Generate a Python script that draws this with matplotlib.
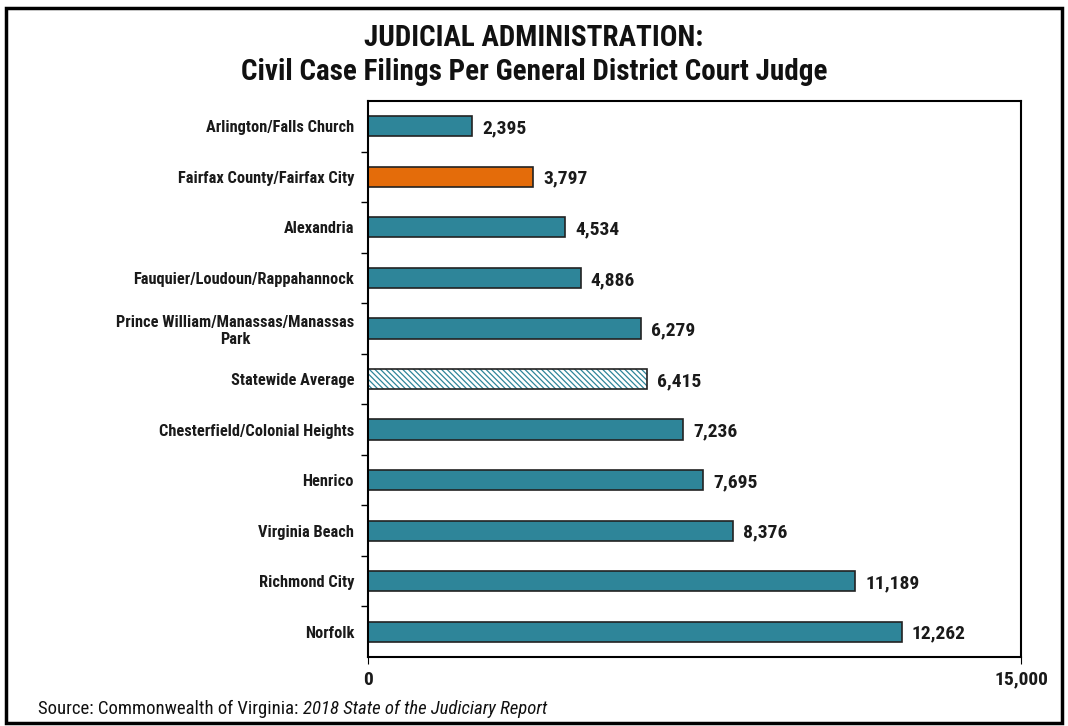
import matplotlib
matplotlib.use("Agg")
import matplotlib.pyplot as plt
from matplotlib.patches import Rectangle

plt.rcParams['font.family'] = ["Roboto Condensed", 'DejaVu Sans']
plt.rcParams['hatch.linewidth'] = 0.9

categories = ["Arlington/Falls Church", "Fairfax County/Fairfax City", "Alexandria",
              "Fauquier/Loudoun/Rappahannock", "Prince William/Manassas/Manassas\nPark",
              "Statewide Average", "Chesterfield/Colonial Heights", "Henrico",
              "Virginia Beach", "Richmond City", "Norfolk"]
values = [2395, 3797, 4534, 4886, 6279, 6415, 7236, 7695, 8376, 11189, 12262]
x_ticks = [0, 15000]
x_tick_labels = ["0", "15,000"]

teal = "#2E8599"
orange = "#E46C0A"

fig = plt.figure(figsize=(10.68, 7.26), dpi=100)
fig.patches.append(Rectangle((0.006, 0.004), 0.988, 0.985, transform=fig.transFigure,
                             fill=False, edgecolor="black", linewidth=2.5))
ax = fig.add_axes([368/1068, 1 - 657/726, (1021-368)/1068, (657-101)/726])

ypos = list(range(len(categories)))
for i, (c, v) in enumerate(zip(categories, values)):
    if c == "Fairfax County/Fairfax City":
        ax.barh(i, v, height=0.4, color=orange, edgecolor="#222222", linewidth=1.2)
    elif c == "Statewide Average":
        ax.barh(i, v, height=0.4, facecolor="white", edgecolor=teal, hatch="\\\\\\\\\\\\", linewidth=0)
        ax.barh(i, v, height=0.4, facecolor="none", edgecolor="#222222", linewidth=1.2)
    else:
        ax.barh(i, v, height=0.4, color=teal, edgecolor="#222222", linewidth=1.2)
    ax.text(v + 230, i + 0.04, f"{v:,}", va="center", ha="left", fontsize=14, fontweight="bold",
            color="#1a1a1a")

ax.set_ylim(len(categories) - 0.5, -0.5)
ax.set_xlim(0, 15000)
ax.set_yticks(ypos)
ax.set_yticklabels(categories, fontsize=11.8, fontweight="bold", color="#1a1a1a",
                   multialignment="center")
ax.tick_params(axis="y", length=0, pad=10)
ax.set_yticks([i + 0.5 for i in range(len(categories) - 1)], minor=True)
ax.tick_params(axis="y", which="minor", length=5, direction="out", width=1)
ax.set_xticks(x_ticks)
ax.set_xticklabels(x_tick_labels, fontsize=14, fontweight="bold", color="#1a1a1a")
ax.tick_params(axis="x", length=5, direction="out", pad=5)
for s in ax.spines.values():
    s.set_linewidth(1.5)
    s.set_color("black")

fig.text(0.5, 1 - 38/726, "JUDICIAL ADMINISTRATION:", ha="center", va="center",
         fontsize=21, fontweight="bold", color="#111111")
fig.text(0.5, 1 - 72/726, "Civil Case Filings Per General District Court Judge", ha="center",
         va="center", fontsize=21, fontweight="bold", color="#111111")
t = fig.text(38/1068, 1 - 709/726, "Source: Commonwealth of Virginia: ", ha="left", va="center",
             fontsize=13.5, color="#111111")
fig.canvas.draw()
bb = t.get_window_extent()
fig.text(bb.x1 / fig.bbox.width, 1 - 709/726, "2018 State of the Judiciary Report", ha="left",
         va="center", fontsize=13.5, style="italic", color="#111111")

fig.savefig("out.png", dpi=100)
